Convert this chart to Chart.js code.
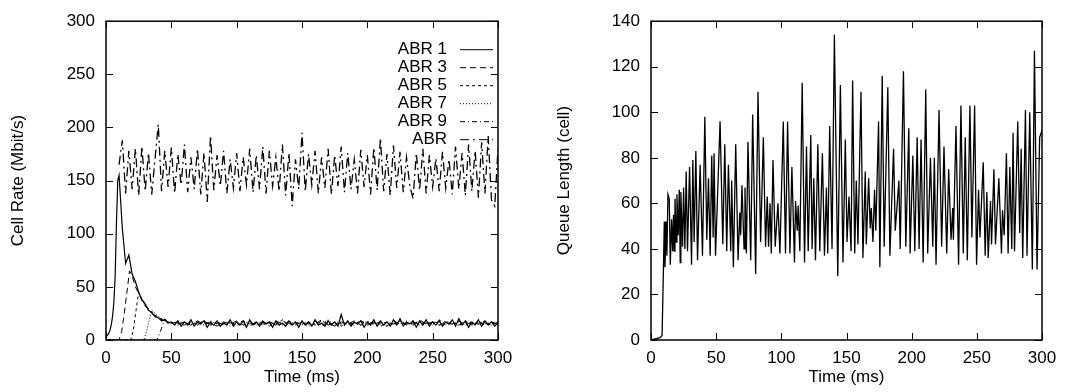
<!DOCTYPE html>
<html>
<head>
<meta charset="utf-8">
<script src="https://cdn.jsdelivr.net/npm/chart.js@4.4.0/dist/chart.umd.min.js"></script>
<style>
html, body { margin: 0; padding: 0; background: #fff; }
#wrap { position: relative; width: 1079px; height: 392px; }
.box { position: absolute; top: 0; height: 392px; }
#left { left: 0; width: 540px; }
#right { left: 540px; width: 539px; }
</style>
</head>
<body>
<div id="wrap">
	<div class="box" id="left"><canvas id="rate" width="540" height="392"></canvas></div>
	<div class="box" id="right"><canvas id="queue" width="539" height="392"></canvas></div>
</div>
<script>
// ---- left plot: cell rate of the ABR sources (Mbit/s) vs time (ms) ----
var rateTicks = [0, 50, 100, 150, 200, 250, 300];
var timeTicks = [0, 50, 100, 150, 200, 250, 300];

// 2.5 ms grid shared by ABR 1 (after its ramp) and the greedy ABR source
var gridTime = [
	10, 12.5, 15, 17.5, 20, 22.5, 25, 27.5, 30, 32.5,
	35, 37.5, 40, 42.5, 45, 47.5, 50, 52.5, 55, 57.5,
	60, 62.5, 65, 67.5, 70, 72.5, 75, 77.5, 80, 82.5,
	85, 87.5, 90, 92.5, 95, 97.5, 100, 102.5, 105, 107.5,
	110, 112.5, 115, 117.5, 120, 122.5, 125, 127.5, 130, 132.5,
	135, 137.5, 140, 142.5, 145, 147.5, 150, 152.5, 155, 157.5,
	160, 162.5, 165, 167.5, 170, 172.5, 175, 177.5, 180, 182.5,
	185, 187.5, 190, 192.5, 195, 197.5, 200, 202.5, 205, 207.5,
	210, 212.5, 215, 217.5, 220, 222.5, 225, 227.5, 230, 232.5,
	235, 237.5, 240, 242.5, 245, 247.5, 250, 252.5, 255, 257.5,
	260, 262.5, 265, 267.5, 270, 272.5, 275, 277.5, 280, 282.5,
	285, 287.5, 290, 292.5, 295, 297.5, 300
];
// 5 ms grid for the late part of ABR 3..9
var coarseTime = [
	55, 60, 65, 70, 75, 80, 85, 90, 95, 100,
	105, 110, 115, 120, 125, 130, 135, 140, 145, 150,
	155, 160, 165, 170, 175, 180, 185, 190, 195, 200,
	205, 210, 215, 220, 225, 230, 235, 240, 245, 250,
	255, 260, 265, 270, 275, 280, 285, 290, 295, 300
];

var abr1RampTime = [0, 2, 3, 4, 5, 6, 7, 8, 9];
var abr1RampRate = [3, 6, 9, 14, 22, 35, 60, 110, 150];
var abr1Rate = [
	155, 105, 72, 80, 62, 55, 45, 38, 34, 28,
	26, 22, 21, 18, 19, 16, 17, 14, 18, 13,
	17, 14, 19, 13, 17, 15, 18, 12, 17, 14,
	18, 13, 16, 14, 19, 13, 17, 14, 18, 12,
	19, 14, 17, 13, 18, 15, 17, 12, 18, 14,
	16, 13, 18, 14, 17, 12, 18, 14, 17, 13,
	19, 14, 16, 13, 18, 14, 17, 13, 24, 14,
	18, 13, 17, 15, 18, 12, 17, 14, 19, 13,
	18, 14, 17, 13, 19, 14, 20, 13, 17, 15,
	18, 12, 18, 14, 19, 13, 17, 14, 18, 13,
	17, 15, 19, 13, 20, 14, 18, 12, 17, 14,
	19, 13, 18, 14, 17, 13, 16
];

var abr3StartTime = [0, 10, 12, 14, 16, 18, 20, 22.5, 25, 27.5, 30, 35, 40, 45, 50];
var abr3StartRate = [0, 0, 8, 25, 45, 65, 60, 50, 44, 37, 32, 25, 21, 18, 16];
var abr3Rate = [
	15, 17, 14, 18, 15, 16, 13, 17, 15, 18,
	14, 16, 15, 17, 13, 18, 15, 16, 14, 17,
	15, 18, 14, 16, 13, 17, 15, 18, 14, 16,
	15, 17, 13, 18, 15, 16, 14, 19, 15, 17,
	14, 16, 15, 18, 14, 17, 15, 16, 14, 17
];

var abr5StartTime = [0, 19, 21, 23, 25, 27.5, 30, 35, 40, 45, 50];
var abr5StartRate = [0, 0, 10, 28, 45, 38, 33, 26, 21, 18, 16];
var abr5Rate = [
	16, 14, 17, 15, 18, 14, 16, 15, 17, 13,
	18, 15, 16, 14, 17, 15, 19, 14, 16, 15,
	17, 14, 18, 15, 16, 13, 17, 15, 18, 14,
	16, 15, 17, 14, 18, 15, 16, 14, 17, 15,
	19, 14, 16, 15, 18, 14, 17, 15, 16, 15
];

var abr7StartTime = [0, 29, 31, 33, 35, 37.5, 40, 45, 50];
var abr7StartRate = [0, 0, 8, 18, 28, 25, 22, 18, 16];
var abr7Rate = [
	14, 17, 15, 16, 14, 18, 15, 17, 13, 16,
	15, 18, 14, 17, 15, 16, 14, 18, 15, 17,
	13, 16, 15, 19, 14, 17, 15, 16, 14, 18,
	15, 17, 13, 16, 15, 18, 14, 17, 15, 16,
	14, 18, 15, 17, 14, 16, 15, 18, 14, 16
];

var abr9StartTime = [0, 39, 41, 43, 45, 47.5, 50];
var abr9StartRate = [0, 0, 6, 13, 20, 17, 16];
var abr9Rate = [
	17, 15, 16, 14, 18, 15, 17, 14, 16, 15,
	18, 13, 17, 15, 16, 14, 18, 15, 17, 14,
	16, 15, 19, 14, 17, 15, 16, 14, 18, 15,
	17, 13, 16, 15, 18, 14, 17, 15, 16, 14,
	18, 15, 17, 14, 16, 15, 18, 14, 17, 15
];

// the greedy "ABR" source, on gridTime
var abrRate = [
	165, 188, 138, 178, 142, 180, 136, 182, 140, 176,
	137, 170, 203, 140, 178, 144, 181, 138, 175, 146,
	184, 139, 172, 142, 180, 137, 176, 130, 192, 141,
	174, 145, 178, 138, 170, 143, 176, 140, 172, 146,
	180, 139, 174, 142, 182, 138, 178, 145, 172, 140,
	184, 136, 176, 126, 170, 142, 195, 140, 175, 146,
	178, 138, 172, 143, 180, 137, 174, 145, 182, 139,
	176, 142, 170, 138, 179, 144, 174, 137, 181, 141,
	190, 140, 175, 136, 183, 143, 177, 139, 172, 145,
	133, 176, 141, 180, 138, 174, 144, 171, 140, 177,
	143, 170, 137, 182, 142, 176, 136, 184, 140, 178,
	134, 186, 138, 192, 132, 126, 180
];

// ---- right plot: queue length (cells) vs time (ms) ----
var queueTicks = [0, 20, 40, 60, 80, 100, 120, 140];
var queueTime = [
	0, 7, 8.5, 9.5, 10.2, 10.7, 11.7, 12.2, 13.0, 14.0,
	14.8, 15.8, 16.6, 17.3, 17.8, 18.4, 19.4, 19.9, 20.9, 21.7,
	22.4, 22.9, 24.2, 25.0, 26.0, 27.0, 28.0, 29.6, 31.1, 32.1,
	33.1, 34.4, 35.7, 37.7, 39.5, 41.3, 42.8, 44.1, 45.4, 46.6,
	47.7, 48.4, 49.5, 53.0, 55.1, 56.6, 58.1, 59.4, 61.2, 61.9,
	63.2, 65.0, 66.8, 68.1, 68.8, 69.8, 71.4, 72.1, 73.2, 74.4,
	76.5, 78.0, 80.3, 82.1, 84.1, 86.2, 87.9, 89.2, 90.2, 91.3,
	92.3, 93.6, 95.3, 97.4, 98.9, 101.5, 103.2, 104.8, 106.6, 108.1,
	110.1, 110.9, 112.2, 112.9, 114.2, 116.0, 117.8, 119.3, 120.6, 122.6,
	123.6, 124.9, 126.2, 128.0, 129.5, 131.5, 133.1, 134.6, 135.6, 137.1,
	138.9, 140.7, 143.3, 145.3, 147.3, 149.1, 150.4, 151.9, 153.5, 154.7,
	156.3, 157.5, 158.8, 161.1, 162.6, 164.4, 165.2, 167.0, 168.2, 169.0,
	170.3, 171.5, 172.5, 174.6, 175.6, 177.4, 178.9, 181.7, 183.3, 186.1,
	187.4, 190.2, 191.2, 193.7, 195.5, 197.8, 198.8, 200.9, 202.4, 204.2,
	205.7, 207.2, 208.8, 210.8, 212.3, 214.4, 216.2, 217.4, 218.7, 221.0,
	223.0, 224.8, 226.9, 228.4, 230.2, 231.5, 232.0, 234.0, 236.0, 237.8,
	239.6, 241.1, 242.7, 244.7, 246.2, 248.3, 249.8, 251.3, 252.4, 254.9,
	256.4, 257.7, 258.7, 260.5, 261.3, 263.1, 264.3, 266.9, 268.9, 269.7,
	271.0, 272.7, 274.0, 275.3, 276.8, 277.8, 278.9, 281.4, 282.9, 284.0,
	285.2, 287.3, 288.5, 290.6, 292.6, 294.2, 296.2, 298.2, 300.0
];
var queueLength = [
	0, 1, 2, 30, 52, 32, 52, 37, 64, 62,
	33, 53, 39, 55, 39, 62, 43, 64, 46, 66,
	34, 65, 41, 67, 40, 74, 39, 76, 33, 79,
	43, 83, 35, 77, 37, 98, 44, 71, 37, 81,
	45, 82, 37, 96, 42, 86, 39, 77, 39, 70,
	32, 86, 35, 56, 46, 68, 40, 67, 38, 87,
	35, 99, 29, 109, 43, 89, 41, 63, 41, 60,
	38, 79, 41, 60, 38, 96, 38, 96, 38, 76,
	34, 61, 48, 59, 39, 113, 34, 85, 39, 90,
	40, 71, 35, 86, 39, 82, 37, 67, 38, 94,
	40, 134, 28, 112, 34, 88, 43, 63, 39, 114,
	38, 70, 42, 109, 36, 74, 42, 71, 49, 58,
	43, 66, 48, 96, 32, 116, 41, 111, 37, 84,
	48, 70, 40, 118, 41, 93, 38, 81, 39, 89,
	40, 88, 34, 110, 38, 80, 41, 80, 33, 101,
	41, 85, 38, 75, 44, 58, 44, 94, 33, 103,
	38, 89, 35, 103, 45, 103, 33, 66, 45, 78,
	37, 65, 36, 61, 42, 75, 42, 71, 38, 57,
	46, 82, 38, 76, 40, 91, 39, 96, 47, 84,
	36, 101, 37, 100, 31, 127, 31, 89, 92
];

Chart.defaults.font.family = '"Liberation Sans", Arial, Helvetica, sans-serif';
Chart.defaults.font.size = 17;
Chart.defaults.color = '#000';

function pairs(ts, vs) {
	return ts.map(function (t, i) { return { x: t, y: vs[i] }; });
}

function line(label, pts, dash, width) {
	return {
		label: label,
		data: pts,
		borderColor: '#000',
		backgroundColor: '#000',
		borderWidth: width || 1,
		borderDash: dash,
		pointRadius: 0,
		tension: 0,
		fill: false
	};
}

// gnuplot style border with inward ticks on all four sides
var frame = {
	id: 'frame',
	afterDatasetsDraw: function (chart) {
		var a = chart.chartArea, c = chart.ctx, sx = chart.scales.x, sy = chart.scales.y;
		c.save();
		c.strokeStyle = '#000';
		c.lineWidth = 1;
		c.beginPath();
		sx.ticks.forEach(function (t) {
			var p = Math.round(sx.getPixelForValue(t.value)) + 0.5;
			c.moveTo(p, a.bottom); c.lineTo(p, a.bottom - 7);
			c.moveTo(p, a.top); c.lineTo(p, a.top + 7);
		});
		sy.ticks.forEach(function (t) {
			var p = Math.round(sy.getPixelForValue(t.value)) + 0.5;
			c.moveTo(a.left, p); c.lineTo(a.left + 7, p);
			c.moveTo(a.right, p); c.lineTo(a.right - 7, p);
		});
		c.stroke();
		c.lineWidth = 1.5;
		c.strokeRect(a.left, a.top, a.right - a.left, a.bottom - a.top);
		c.restore();
	}
};

// key in the top right corner: right aligned text, line sample after it
var key = {
	id: 'key',
	afterDraw: function (chart) {
		var a = chart.chartArea, c = chart.ctx;
		c.save();
		c.font = '17px "Liberation Sans", Arial, sans-serif';
		c.fillStyle = '#000';
		c.textAlign = 'right';
		c.textBaseline = 'middle';
		chart.data.datasets.forEach(function (ds, i) {
			var y = a.top + 28 + i * 18;
			c.fillText(ds.label, a.right - 51, y);
			c.strokeStyle = '#000';
			c.lineWidth = 1;
			c.setLineDash(ds.borderDash || []);
			c.beginPath();
			c.moveTo(a.right - 38, y + 0.5);
			c.lineTo(a.right - 5, y + 0.5);
			c.stroke();
			c.setLineDash([]);
		});
		c.restore();
	}
};

function axes(yMin, yMax, yTicks, yTitle, yWidth, yTitlePad) {
	return {
		x: {
			type: 'linear',
			min: 0,
			max: 300,
			afterBuildTicks: function (s) { s.ticks = timeTicks.map(function (v) { return { value: v }; }); },
			afterFit: function (s) { s.height = 52; },
			grid: { display: false, drawTicks: false },
			border: { display: false },
			ticks: { padding: 8, maxRotation: 0, color: '#000' },
			title: { display: true, text: 'Time (ms)', color: '#000', padding: { top: 0, bottom: 4 } }
		},
		y: {
			min: yMin,
			max: yMax,
			afterBuildTicks: function (s) { s.ticks = yTicks.map(function (v) { return { value: v }; }); },
			afterFit: function (s) { s.width = yWidth; },
			grid: { display: false, drawTicks: false },
			border: { display: false },
			ticks: { padding: 11, color: '#000' },
			title: { display: true, text: yTitle, color: '#000', padding: { top: yTitlePad, bottom: 0 } }
		}
	};
}

new Chart(document.getElementById('rate').getContext('2d'), {
	type: 'line',
	data: {
		datasets: [
			line('ABR 1', pairs(abr1RampTime.concat(gridTime), abr1RampRate.concat(abr1Rate)), [], 1.2),
			line('ABR 3', pairs(abr3StartTime.concat(coarseTime), abr3StartRate.concat(abr3Rate)), [6, 4]),
			line('ABR 5', pairs(abr5StartTime.concat(coarseTime), abr5StartRate.concat(abr5Rate)), [3, 3]),
			line('ABR 7', pairs(abr7StartTime.concat(coarseTime), abr7StartRate.concat(abr7Rate)), [1, 2]),
			line('ABR 9', pairs(abr9StartTime.concat(coarseTime), abr9StartRate.concat(abr9Rate)), [5, 3, 1, 3]),
			line('ABR', pairs(gridTime, abrRate), [9, 4, 2, 4], 1.3)
		]
	},
	options: {
		responsive: false,
		animation: false,
		layout: { padding: { left: 0, right: 42, top: 15, bottom: 0 } },
		plugins: { legend: { display: false }, tooltip: { enabled: false } },
		scales: axes(0, 300, rateTicks, 'Cell Rate (Mbit/s)', 106, 8)
	},
	plugins: [frame, key]
});

new Chart(document.getElementById('queue').getContext('2d'), {
	type: 'line',
	data: {
		datasets: [
			line('Queue', pairs(queueTime, queueLength), [], 1.3)
		]
	},
	options: {
		responsive: false,
		animation: false,
		layout: { padding: { left: 0, right: 37, top: 15, bottom: 0 } },
		plugins: { legend: { display: false }, tooltip: { enabled: false } },
		scales: axes(0, 140, queueTicks, 'Queue Length (cell)', 111, 14)
	},
	plugins: [frame]
});
</script>
</body>
</html>
